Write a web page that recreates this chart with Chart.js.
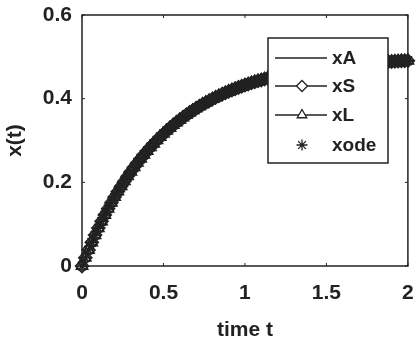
<!DOCTYPE html>
<html>
<head>
<meta charset="UTF-8">
<script src="https://cdn.jsdelivr.net/npm/chart.js"></script>
<style>
  html, body { margin: 0; padding: 0; background: #fff; }
  #wrap { width: 416px; height: 339px; }
</style>
</head>
<body>
<div id="wrap"><canvas id="chart"></canvas></div>
<script>
// time samples
const tVals = [
  0, 0.02, 0.04, 0.06, 0.08, 0.1, 0.12, 0.14, 0.16, 0.18,
  0.2, 0.22, 0.24, 0.26, 0.28, 0.3, 0.32, 0.34, 0.36, 0.38,
  0.4, 0.42, 0.44, 0.46, 0.48, 0.5, 0.52, 0.54, 0.56, 0.58,
  0.6, 0.62, 0.64, 0.66, 0.68, 0.7, 0.72, 0.74, 0.76, 0.78,
  0.8, 0.82, 0.84, 0.86, 0.88, 0.9, 0.92, 0.94, 0.96, 0.98,
  1.0, 1.02, 1.04, 1.06, 1.08, 1.1, 1.12, 1.14, 1.16, 1.18,
  1.2, 1.22, 1.24, 1.26, 1.28, 1.3, 1.32, 1.34, 1.36, 1.38,
  1.4, 1.42, 1.44, 1.46, 1.48, 1.5, 1.52, 1.54, 1.56, 1.58,
  1.6, 1.62, 1.64, 1.66, 1.68, 1.7, 1.72, 1.74, 1.76, 1.78,
  1.8, 1.82, 1.84, 1.86, 1.88, 1.9, 1.92, 1.94, 1.96, 1.98, 2.0];
// analytic solution; the other three methods sit right on top of it
const xA = [
  0, 0.0196, 0.0384, 0.0565, 0.0739, 0.0906, 0.1067, 0.1221, 0.1369, 0.1512,
  0.1648, 0.1780, 0.1906, 0.2027, 0.2144, 0.2256, 0.2364, 0.2467, 0.2566, 0.2662,
  0.2753, 0.2841, 0.2926, 0.3007, 0.3086, 0.3161, 0.3233, 0.3302, 0.3369, 0.3433,
  0.3494, 0.3553, 0.3610, 0.3664, 0.3717, 0.3767, 0.3815, 0.3862, 0.3906, 0.3949,
  0.3991, 0.4030, 0.4068, 0.4105, 0.4140, 0.4174, 0.4206, 0.4237, 0.4267, 0.4296,
  0.4323, 0.4350, 0.4375, 0.4400, 0.4423, 0.4446, 0.4468, 0.4489, 0.4509, 0.4528,
  0.4546, 0.4564, 0.4581, 0.4598, 0.4613, 0.4629, 0.4643, 0.4657, 0.4671, 0.4684,
  0.4696, 0.4708, 0.4719, 0.4730, 0.4741, 0.4751, 0.4761, 0.4770, 0.4779, 0.4788,
  0.4796, 0.4804, 0.4812, 0.4819, 0.4826, 0.4833, 0.4840, 0.4846, 0.4852, 0.4858,
  0.4863, 0.4869, 0.4874, 0.4879, 0.4884, 0.4888, 0.4893, 0.4897, 0.4901, 0.4905, 0.4908];
const xS = xA.slice();
const xL = xA.slice();
const xode = xA.slice();
const seriesNames = ['xA', 'xS', 'xL', 'xode'];
const xTicks = [0, 0.5, 1, 1.5, 2];
const yTicks = [0, 0.2, 0.4, 0.6];

const FONT = 'Liberation Sans, Arial, sans-serif';
const INK = '#222';

function pts(ys) {
  return tVals.map((t, i) => ({ x: t, y: ys[i] }));
}

// box around the plot with inward ticks, matlab style, plus the legend
const axesBox = {
  id: 'axesBox',
  afterDatasetsDraw(chart) {
    const { ctx, chartArea: a, scales } = chart;
    ctx.save();
    ctx.strokeStyle = INK;
    ctx.lineWidth = 1.5;
    ctx.strokeRect(a.left, a.top, a.right - a.left, a.bottom - a.top);
    ctx.lineWidth = 1;
    xTicks.forEach(v => {
      const px = scales.x.getPixelForValue(v);
      ctx.beginPath();
      ctx.moveTo(px, a.bottom); ctx.lineTo(px, a.bottom - 3);
      ctx.moveTo(px, a.top); ctx.lineTo(px, a.top + 3);
      ctx.stroke();
    });
    yTicks.forEach(v => {
      const py = scales.y.getPixelForValue(v);
      ctx.beginPath();
      ctx.moveTo(a.left, py); ctx.lineTo(a.left + 3, py);
      ctx.moveTo(a.right, py); ctx.lineTo(a.right - 3, py);
      ctx.stroke();
    });
    ctx.restore();
  },
  afterDraw(chart) {
    const ctx = chart.ctx;
    const bx = 268, by = 38, bw = 120, bh = 125;
    ctx.save();
    ctx.fillStyle = '#fff';
    ctx.fillRect(bx, by, bw, bh);
    ctx.strokeStyle = INK;
    ctx.lineWidth = 1.5;
    ctx.strokeRect(bx, by, bw, bh);
    const rows = [58, 86, 115, 145];
    ctx.font = 'bold 19px ' + FONT;
    ctx.textBaseline = 'middle';
    ctx.textAlign = 'left';
    rows.forEach((y, i) => {
      const ds = chart.data.datasets[i];
      ctx.strokeStyle = INK;
      ctx.lineWidth = 1.3;
      if (ds.showLine !== false) {
        ctx.beginPath();
        ctx.moveTo(275, y); ctx.lineTo(327, y);
        ctx.stroke();
      }
      if (ds.pointStyle) {
        ctx.fillStyle = '#fff';
        Chart.helpers.drawPoint(ctx, {
          pointStyle: ds.pointStyle, radius: 5.5, rotation: 0, borderWidth: 1.3
        }, 302, y);
      }
      ctx.fillStyle = INK;
      ctx.fillText(seriesNames[i], 332, y + 1);
    });
    ctx.restore();
  }
};

const tickFont = { family: FONT, size: 21, weight: 'bold' };

new Chart(document.getElementById('chart'), {
  type: 'scatter',
  data: {
    datasets: [
      { label: seriesNames[0], data: pts(xA), showLine: true, borderColor: INK, borderWidth: 1.2,
        pointRadius: 0, pointStyle: false },
      { label: seriesNames[1], data: pts(xS), showLine: true, borderColor: INK, borderWidth: 1.2,
        pointStyle: 'rectRot', pointRadius: 6.5, pointBorderColor: INK,
        pointBackgroundColor: 'rgba(0,0,0,0)', pointBorderWidth: 1.6 },
      { label: seriesNames[2], data: pts(xL), showLine: true, borderColor: INK, borderWidth: 1.2,
        pointStyle: 'triangle', pointRadius: 6.5, pointBorderColor: INK,
        pointBackgroundColor: 'rgba(0,0,0,0)', pointBorderWidth: 1.6 },
      { label: seriesNames[3], data: pts(xode), showLine: false, borderColor: INK,
        pointStyle: 'star', pointRadius: 6, pointBorderColor: INK, pointBorderWidth: 1.6,
        pointBackgroundColor: 'rgba(0,0,0,0)' }
    ]
  },
  options: {
    responsive: true,
    maintainAspectRatio: false,
    animation: false,
    clip: false,
    layout: { padding: { top: 15, right: 4, left: 0, bottom: 0 } },
    plugins: { legend: { display: false }, tooltip: { enabled: false } },
    scales: {
      x: {
        type: 'linear', min: 0, max: 2,
        afterBuildTicks: s => { s.ticks = xTicks.map(v => ({ value: v })); },
        afterFit: s => { s.height = 73; s.paddingLeft = 0; s.paddingRight = 0; },
        grid: { display: false, drawTicks: false },
        border: { display: false },
        ticks: { color: INK, padding: 15, maxRotation: 0, font: tickFont,
          callback: v => String(v) },
        title: { display: true, text: 'time t', color: INK, padding: 0,
          font: { family: FONT, size: 21, weight: 'bold', lineHeight: 0.8 } }
      },
      y: {
        type: 'linear', min: 0, max: 0.6,
        afterBuildTicks: s => { s.ticks = yTicks.map(v => ({ value: v })); },
        afterFit: s => { s.width = 82; s.paddingTop = 0; s.paddingBottom = 0; },
        grid: { display: false, drawTicks: false },
        border: { display: false },
        ticks: { color: INK, padding: 10, font: tickFont, callback: v => String(v) },
        title: { display: true, text: 'x(t)', color: INK, padding: { top: 3 },
          font: { family: FONT, size: 21, weight: 'bold' } }
      }
    }
  },
  plugins: [axesBox]
});
</script>
</body>
</html>
